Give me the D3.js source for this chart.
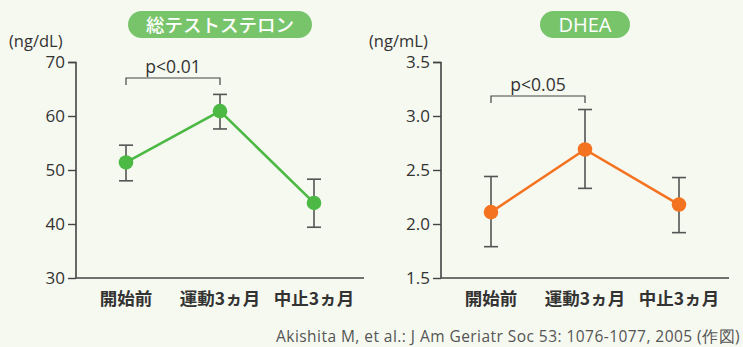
<!DOCTYPE html>
<html>
<head>
<meta charset="utf-8">
<script src="https://cdn.jsdelivr.net/npm/d3@7"></script>
<style>
  html, body { margin: 0; padding: 0; background: #f6f9f0; }
  svg { display: block; font-family: "Noto Sans CJK JP", "Noto Sans", sans-serif; }
</style>
</head>
<body>
<svg id="chart" width="743" height="347"></svg>
<script>
// Categories shared by both panels
const categories = ["開始前", "運動3ヵ月", "中止3ヵ月"];

// Total testosterone (ng/dL): mean and error range
const testoMean = [51.4, 60.9, 43.9];
const testoHigh = [54.6, 64.0, 48.3];
const testoLow  = [48.0, 57.6, 39.4];
const testoTicks = [30, 40, 50, 60, 70];

// DHEA (ng/mL): mean and error range
const dheaMean = [2.11, 2.69, 2.18];
const dheaHigh = [2.44, 3.06, 2.43];
const dheaLow  = [1.79, 2.33, 1.92];
const dheaTicks = [1.5, 2.0, 2.5, 3.0, 3.5];

const svg = d3.select("#chart");
const latin = "'Open Sans', 'Noto Sans', sans-serif";

function panel(opt) {
  const g = svg.append("g");
  const x = d3.scalePoint().domain(categories).range([opt.x0 + 50, opt.x0 + 238]);
  const y = d3.scaleLinear().domain(opt.domain).range([278, 62]);

  // title pill
  g.append("rect")
    .attr("x", opt.pill[0]).attr("y", 11)
    .attr("width", opt.pill[1] - opt.pill[0]).attr("height", 27)
    .attr("rx", 13.5).attr("fill", "#78c46b");
  g.append("text")
    .attr("x", (opt.pill[0] + opt.pill[1]) / 2).attr("y", 31.5)
    .attr("text-anchor", "middle").attr("fill", "#fff")
    .attr("font-size", opt.titleSize).attr("font-weight", 500)
    .attr("font-family", opt.titleFont)
    .text(opt.title);

  // unit label
  g.append("text")
    .attr("x", opt.unitX).attr("y", 47)
    .attr("fill", "#333").attr("font-size", 16.5)
    .attr("font-family", latin)
    .text(opt.unit);

  // y axis
  const yAxis = d3.axisLeft(y).tickValues(opt.ticks).tickFormat(opt.fmt).tickSize(8).tickPadding(3);
  const ya = g.append("g").attr("transform", `translate(${opt.x0},0)`).call(yAxis);
  ya.select(".domain").attr("stroke", "#444").attr("stroke-width", 1.6).attr("d", `M-8,62.5H0V278`);
  ya.selectAll(".tick line").attr("stroke", "#444").attr("stroke-width", 1.4);
  ya.selectAll(".tick text").attr("fill", "#333").attr("font-size", 17)
    .attr("font-family", latin);

  // x axis baseline and category labels
  g.append("line")
    .attr("x1", opt.x0).attr("x2", opt.x0 + 288)
    .attr("y1", 278).attr("y2", 278)
    .attr("stroke", "#444").attr("stroke-width", 1.6);
  g.selectAll(".cat").data(categories).join("text")
    .attr("x", d => x(d)).attr("y", 305)
    .attr("text-anchor", "middle").attr("fill", "#333")
    .attr("font-size", 17.5).attr("font-weight", 700)
    .text(d => d);

  // significance bracket
  const b0 = x(categories[0]), b1 = x(categories[1]);
  g.append("path")
    .attr("d", `M${b0},${opt.brY + 7}V${opt.brY}H${b1}V${opt.brY + 7}`)
    .attr("fill", "none").attr("stroke", "#444").attr("stroke-width", 1.2);
  g.append("text")
    .attr("x", (b0 + b1) / 2).attr("y", opt.brY - 5)
    .attr("text-anchor", "middle").attr("fill", "#333")
    .attr("font-size", 17.5).attr("font-family", latin)
    .text(opt.pText);

  // error bars
  const eb = g.selectAll(".eb").data(categories).join("g");
  eb.append("line")
    .attr("x1", d => x(d)).attr("x2", d => x(d))
    .attr("y1", (d, i) => y(opt.high[i])).attr("y2", (d, i) => y(opt.low[i]))
    .attr("stroke", "#555").attr("stroke-width", 1.6);
  eb.append("line")
    .attr("x1", d => x(d) - 7).attr("x2", d => x(d) + 7)
    .attr("y1", (d, i) => y(opt.high[i])).attr("y2", (d, i) => y(opt.high[i]))
    .attr("stroke", "#555").attr("stroke-width", 1.6);
  eb.append("line")
    .attr("x1", d => x(d) - 7).attr("x2", d => x(d) + 7)
    .attr("y1", (d, i) => y(opt.low[i])).attr("y2", (d, i) => y(opt.low[i]))
    .attr("stroke", "#555").attr("stroke-width", 1.6);

  // mean line and markers
  const line = d3.line().x((d, i) => x(categories[i])).y(d => y(d));
  g.append("path").datum(opt.mean)
    .attr("d", line).attr("fill", "none")
    .attr("stroke", opt.color).attr("stroke-width", 2.6);
  g.selectAll(".pt").data(opt.mean).join("circle")
    .attr("cx", (d, i) => x(categories[i])).attr("cy", d => y(d))
    .attr("r", 7.3).attr("fill", opt.color);
}

panel({
  x0: 76, domain: [30, 70], ticks: testoTicks, fmt: d3.format("d"),
  mean: testoMean, high: testoHigh, low: testoLow,
  color: "#4cb944", title: "総テストステロン", pill: [128, 312],
  titleSize: 18.5, titleFont: "'Noto Sans CJK JP', sans-serif",
  unit: "(ng/dL)", unitX: 9, brY: 78, pText: "p<0.01"
});

panel({
  x0: 441, domain: [1.5, 3.5], ticks: dheaTicks, fmt: d3.format(".1f"),
  mean: dheaMean, high: dheaHigh, low: dheaLow,
  color: "#f47321", title: "DHEA", pill: [540, 630],
  titleSize: 20, titleFont: latin,
  unit: "(ng/mL)", unitX: 369, brY: 96, pText: "p<0.05"
});

// source note
svg.append("text")
  .attr("x", 740).attr("y", 342)
  .attr("text-anchor", "end").attr("fill", "#555")
  .attr("font-size", 15.5).attr("font-family", latin)
  .attr("letter-spacing", 0.45)
  .text("Akishita M, et al.: J Am Geriatr Soc 53: 1076-1077, 2005 (作図)");
</script>
</body>
</html>
